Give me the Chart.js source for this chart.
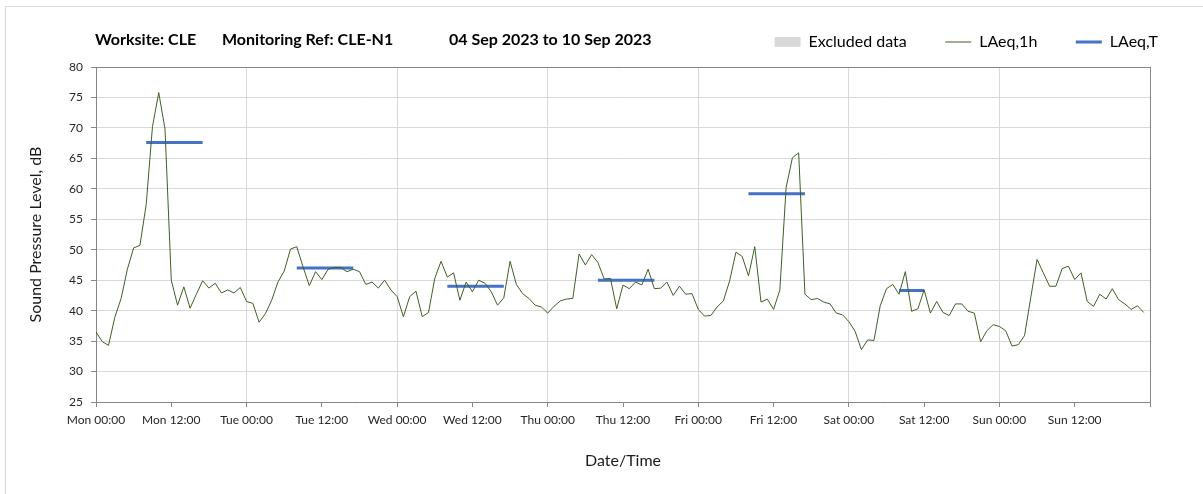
<!DOCTYPE html>
<html>
<head>
<meta charset="utf-8">
<script src="https://cdn.jsdelivr.net/npm/chart.js@4.4.0/dist/chart.umd.min.js"></script>
<style>
  html, body { margin: 0; padding: 0; background: #fff; overflow: hidden; }
  #frame { position: absolute; left: 5px; top: 6px; width: 1300px; height: 600px; border: 1px solid #d9d9d9; }
  #wrap { position: absolute; left: 0; top: 0; width: 1203px; height: 494px; }
</style>
</head>
<body>
<div id="frame"></div>
<div id="wrap"><canvas id="chart"></canvas></div>
<script>
// hourly LAeq,1h readings, Mon 00:00 .. Sun 23:00
const laeq1h = [
  36.5, 34.9, 34.3, 38.9, 42.0, 46.8, 50.3, 50.7, 57.4, 70.2, 75.8, 69.8,
  45.0, 40.9, 43.9, 40.4, 42.7, 44.9, 43.7, 44.5, 42.9, 43.4, 42.9, 43.8,
  41.5, 41.2, 38.1, 39.5, 41.7, 44.7, 46.5, 50.1, 50.5, 47.2, 44.1, 46.4,
  45.1, 46.8, 47.1, 47.1, 46.4, 46.8, 46.4, 44.3, 44.7, 43.7, 45.0, 43.4,
  42.3, 39.0, 42.3, 43.2, 39.0, 39.7, 45.3, 48.1, 45.5, 46.2, 41.7, 44.7,
  43.1, 45.0, 44.5, 43.1, 40.9, 42.1, 48.1, 44.3, 42.8, 42.0, 40.9, 40.6,
  39.6, 40.7, 41.6, 41.9, 42.0, 49.3, 47.5, 49.2, 47.9, 45.2, 45.3, 40.3,
  44.2, 43.6, 44.7, 44.2, 46.8, 43.6, 43.7, 44.7, 42.5, 44.0, 42.7, 42.8,
  40.2, 39.1, 39.2, 40.6, 41.6, 44.9, 49.6, 48.9, 45.7, 50.5, 41.4, 41.9,
  40.2, 43.4, 60.2, 65.1, 65.9, 42.7, 41.8, 42.0, 41.4, 41.1, 39.6, 39.3,
  38.2, 36.6, 33.6, 35.2, 35.1, 40.8, 43.6, 44.3, 42.7, 46.4, 39.9, 40.3,
  43.4, 39.6, 41.5, 39.7, 39.2, 41.1, 41.1, 39.9, 39.6, 34.9, 36.7, 37.7,
  37.4, 36.7, 34.2, 34.4, 35.9, 42.2, 48.4, 46.2, 44.0, 44.0, 46.9, 47.3,
  45.1, 46.2, 41.5, 40.7, 42.7, 41.9, 43.6, 41.8, 41.1, 40.2, 40.8, 39.7
];

// LAeq,T periods (hours from Mon 00:00)
const periodStart = [8, 32, 56, 80, 104, 128];
const periodEnd = [17, 41, 65, 89, 113, 132];
const periodLevel = [67.6, 47.0, 44.0, 45.0, 59.2, 43.3];

const excludedData = [];

const tickLabels = [
  'Mon 00:00', 'Mon 12:00', 'Tue 00:00', 'Tue 12:00', 'Wed 00:00', 'Wed 12:00',
  'Thu 00:00', 'Thu 12:00', 'Fri 00:00', 'Fri 12:00', 'Sat 00:00', 'Sat 12:00',
  'Sun 00:00', 'Sun 12:00'
];

const titleParts = ['Worksite: CLE', 'Monitoring Ref: CLE-N1', '04 Sep 2023 to 10 Sep 2023'];

const hourlyPoints = laeq1h.map((v, i) => ({ x: i, y: v }));
const periodPoints = []
periodStart.forEach((s, i) => {
  periodPoints.push({ x: s, y: periodLevel[i] })
  periodPoints.push({ x: periodEnd[i], y: periodLevel[i] })
  periodPoints.push({ x: periodEnd[i], y: null })
});

const FONT = 'Lato, "Open Sans", sans-serif'
const GREEN = '#3f5f26'
const BLUE = '#4472c4'
const AXIS = '#868686'
const GRID = '#d9d9d9'

const headerTitle = {
  id: 'headerTitle',
  afterDraw(chart) {
    const ctx = chart.ctx
    const xs = [95, 222, 449]
    ctx.save()
    ctx.font = 'bold 16px ' + FONT
    ctx.fillStyle = '#000'
    ctx.textBaseline = 'middle'
    titleParts.forEach((t, i) => ctx.fillText(t, xs[i], 40))
    ctx.restore()
  },
}

new Chart(document.getElementById('chart'), {
  type: 'line',
  data: {
    datasets: [
      {
        label: 'Excluded data',
        data: excludedData,
        backgroundColor: GRID,
        borderWidth: 0,
      },
      {
        label: 'LAeq,1h',
        data: hourlyPoints,
        borderColor: GREEN,
        borderWidth: 1,
        pointRadius: 0,
        tension: 0,
      },
      {
        label: 'LAeq,T',
        data: periodPoints,
        borderColor: BLUE,
        borderWidth: 3,
        pointRadius: 0,
        spanGaps: false,
      },
    ],
  },
  options: {
    responsive: true,
    maintainAspectRatio: false,
    animation: false,
    layout: { padding: { top: -4.5, right: 6.5, bottom: 0, left: 0 } },
    plugins: {
      tooltip: { enabled: false },
      legend: {
        position: 'top',
        align: 'end',
        labels: {
          usePointStyle: true,
          pointStyleWidth: 26,
          boxHeight: 10,
          padding: 38.5,
          color: '#1a1a1a',
          font: { family: FONT, size: 16 },
          generateLabels() {
            return [
              { text: 'Excluded data', fillStyle: GRID, strokeStyle: GRID, lineWidth: 0, pointStyle: 'rect', datasetIndex: 0 },
              { text: 'LAeq,1h', fillStyle: GREEN, strokeStyle: GREEN, lineWidth: 1, pointStyle: 'line', datasetIndex: 1 },
              { text: 'LAeq,T', fillStyle: BLUE, strokeStyle: BLUE, lineWidth: 3, pointStyle: 'line', datasetIndex: 2 },
            ]
          },
        },
      },
    },
    scales: {
      x: {
        type: 'linear',
        min: 0,
        max: 168,
        afterBuildTicks(scale) {
          scale.ticks = tickLabels.map((_, i) => ({ value: i * 12 })).concat([{ value: 168 }])
        },
        afterFit(scale) { scale.height = 92 },
        ticks: {
          autoSkip: false,
          maxRotation: 0,
          padding: 6,
          color: '#262626',
          font: { family: FONT, size: 12 },
          callback: (v) => tickLabels[v / 12] || '',
        },
        grid: {
          color: (ctx) => (ctx.tick && ctx.tick.value % 24 === 0 ? GRID : 'rgba(0,0,0,0)'),
          tickColor: AXIS,
          tickLength: 5,
        },
        border: { color: AXIS, width: 1 },
        title: {
          display: true,
          text: 'Date/Time',
          color: '#1a1a1a',
          font: { family: FONT, size: 16 },
          padding: { top: 0, bottom: 24 },
        },
      },
      xTop: {
        type: 'linear',
        position: 'top',
        display: true,
        min: 0,
        max: 168,
        afterFit(scale) { scale.height = 7 },
        ticks: { display: false },
        grid: { display: false },
        border: { color: AXIS, width: 1 },
      },
      y: {
        min: 25,
        max: 80,
        afterFit(scale) { scale.width = 96 },
        ticks: {
          stepSize: 5,
          padding: 8,
          color: '#262626',
          font: { family: FONT, size: 12 },
        },
        grid: { color: GRID, tickColor: AXIS, tickLength: 5 },
        border: { color: AXIS, width: 1 },
        title: {
          display: true,
          text: 'Sound Pressure Level, dB',
          color: '#1a1a1a',
          font: { family: FONT, size: 16 },
          padding: { top: 26, bottom: 0 },
        },
      },
      yRight: {
        position: 'right',
        display: true,
        min: 25,
        max: 80,
        afterFit(scale) { scale.width = 46.5 },
        ticks: { display: false },
        grid: { display: false },
        border: { color: AXIS, width: 1 },
      },
    },
  },
  plugins: [headerTitle],
})
</script>
</body>
</html>
